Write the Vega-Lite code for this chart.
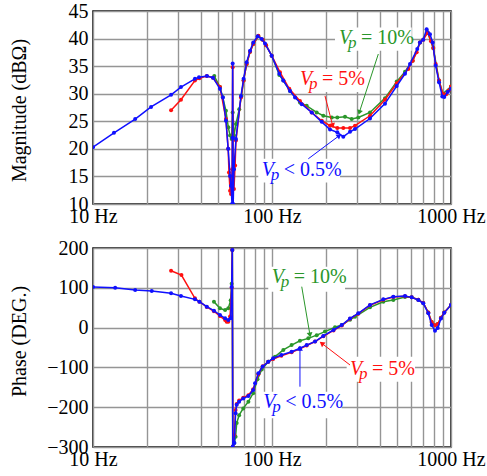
{
"$schema": "https://vega.github.io/schema/vega-lite/v6.json",
"background": "white",
"padding": {"left": 8, "top": 0, "right": 0, "bottom": 0},
"config": {
  "font": "'Liberation Serif', 'Times New Roman', Times, serif",
  "text": {"font": "'Liberation Serif', 'Times New Roman', Times, serif"},
  "view": {"stroke": "#000", "strokeWidth": 1.5},
  "axis": {"labelFont": "'Liberation Serif', 'Times New Roman', Times, serif", "labelFontSize": 20, "labelColor": "#000", "titleFont": "'Liberation Serif', 'Times New Roman', Times, serif", "titleFontSize": 20, "titleFontWeight": "normal", "titleColor": "#000", "gridColor": "#959595", "gridWidth": 1.4, "gridOpacity": 1, "domain": false, "ticks": false},
  "concat": {"spacing": 10}
},
"datasets": {
  "magB": [{"f":10,"v":20.3},{"f":13.1,"v":22.9},{"f":17.2,"v":25.4},{"f":21.1,"v":27.6},{"f":27.3,"v":29.8},{"f":31.0,"v":31.2},{"f":37.1,"v":32.7},{"f":39.1,"v":33.0},{"f":43.3,"v":33.2},{"f":46.8,"v":32.9},{"f":51.2,"v":30.9},{"f":53.2,"v":29.3},{"f":55.3,"v":25.1},{"f":56.9,"v":20.0},{"f":58.3,"v":15.1},{"f":59.0,"v":13.3},{"f":59.8,"v":10.0},{"f":60.1,"v":22.0},{"f":60.3,"v":35.5},{"f":60.5,"v":22.0},{"f":60.7,"v":10.0},{"f":61.3,"v":16.3},{"f":62.9,"v":21.8},{"f":67.1,"v":29.6},{"f":69.4,"v":32.7},{"f":72.2,"v":35.7},{"f":75.4,"v":37.8},{"f":78.6,"v":39.3},{"f":83.2,"v":40.4},{"f":87.6,"v":39.9},{"f":91.4,"v":39.1},{"f":99.6,"v":36.9},{"f":109.9,"v":33.6},{"f":115.7,"v":32.4},{"f":126.1,"v":30.5},{"f":134.5,"v":29.3},{"f":146.6,"v":28.1},{"f":166.7,"v":26.6},{"f":189.6,"v":24.9},{"f":210.9,"v":23.5},{"f":231.7,"v":23.0},{"f":250.2,"v":22.2},{"f":272.8,"v":23.1},{"f":290.9,"v":23.6},{"f":352.7,"v":25.5},{"f":427.9,"v":28.2},{"f":497.5,"v":31.4},{"f":553.4,"v":33.6},{"f":590,"v":35.4},{"f":648,"v":38.1},{"f":671,"v":39.3},{"f":700,"v":39.8},{"f":731,"v":41.7},{"f":763,"v":40.8},{"f":790,"v":39.3},{"f":821,"v":35.1},{"f":857,"v":32.1},{"f":894,"v":29.5},{"f":917,"v":29.4},{"f":958,"v":30.3},{"f":1000,"v":30.9}],
  "magR": [{"f":27.3,"v":27.0},{"f":31.0,"v":28.9},{"f":37.1,"v":32.4},{"f":39.3,"v":32.8},{"f":43.2,"v":33.2},{"f":46.8,"v":32.9},{"f":51.2,"v":31.2},{"f":55.3,"v":25.4},{"f":56.9,"v":20.0},{"f":57.5,"v":15.7},{"f":58.3,"v":12.4},{"f":59.0,"v":11.8},{"f":59.9,"v":16.3},{"f":60.3,"v":34.8},{"f":60.7,"v":16.3},{"f":61.3,"v":12.7},{"f":62.2,"v":17.0},{"f":62.9,"v":21.5},{"f":67.1,"v":29.3},{"f":69.4,"v":32.4},{"f":72.2,"v":35.4},{"f":75.4,"v":37.6},{"f":78.6,"v":39.0},{"f":83.9,"v":40.5},{"f":88.7,"v":39.8},{"f":92.6,"v":38.8},{"f":99.6,"v":36.9},{"f":110.8,"v":33.9},{"f":124.9,"v":30.9},{"f":143.3,"v":28.7},{"f":166.7,"v":26.6},{"f":189.6,"v":25.1},{"f":210.9,"v":24.2},{"f":231.7,"v":23.8},{"f":250.2,"v":23.8},{"f":272.8,"v":23.8},{"f":290.9,"v":24.2},{"f":352.7,"v":26.0},{"f":427.9,"v":28.9},{"f":497.5,"v":31.9},{"f":577.6,"v":34.5},{"f":611,"v":36.0},{"f":643,"v":37.5},{"f":671,"v":39.3},{"f":700,"v":39.8},{"f":741,"v":41.1},{"f":773,"v":39.5},{"f":796,"v":38.3},{"f":821,"v":35.4},{"f":857,"v":32.4},{"f":900,"v":30.0},{"f":940,"v":29.9},{"f":970,"v":30.6},{"f":1000,"v":31.3}],
  "magG": [{"f":47.6,"v":33.2},{"f":51.2,"v":31.2},{"f":53.0,"v":29.4},{"f":55.3,"v":26.9},{"f":57.0,"v":23.9},{"f":58.3,"v":22.4},{"f":59.5,"v":21.8},{"f":60.3,"v":26.6},{"f":61.3,"v":22.4},{"f":62.9,"v":24.5},{"f":65.6,"v":27.2},{"f":67.5,"v":29.6},{"f":69.4,"v":32.4},{"f":72.2,"v":35.4},{"f":75.4,"v":37.6},{"f":78.6,"v":39.0},{"f":83.9,"v":40.4},{"f":88.7,"v":39.8},{"f":92.6,"v":38.8},{"f":99.6,"v":36.9},{"f":109.9,"v":33.4},{"f":115.7,"v":32.4},{"f":126.1,"v":30.5},{"f":143.3,"v":28.4},{"f":156.3,"v":27.8},{"f":177.7,"v":26.6},{"f":193.5,"v":26.0},{"f":215.6,"v":25.7},{"f":231.7,"v":25.7},{"f":255.7,"v":25.8},{"f":278.7,"v":25.4},{"f":303.5,"v":25.7},{"f":352.7,"v":26.6},{"f":427.9,"v":29.2},{"f":497.5,"v":32.2},{"f":553.4,"v":34.0},{"f":611,"v":36.0},{"f":671,"v":39.3},{"f":741,"v":41.1},{"f":796,"v":38.3},{"f":857,"v":32.4},{"f":900,"v":30.0},{"f":1000,"v":31.3}],
  "phB": [{"f":10,"v":102},{"f":13.3,"v":100.3},{"f":17.2,"v":94.5},{"f":21.3,"v":92},{"f":27.3,"v":86.2},{"f":31.0,"v":79.4},{"f":37.1,"v":71.0},{"f":39.3,"v":65.1},{"f":43.2,"v":52.6},{"f":47.4,"v":42.6},{"f":51.2,"v":31.7},{"f":54.7,"v":23.3},{"f":57.0,"v":19},{"f":58.8,"v":23.3},{"f":59.5,"v":102},{"f":60.0,"v":195},{"f":60.4,"v":-299},{"f":61.6,"v":-290},{"f":62.6,"v":-215},{"f":63.5,"v":-194},{"f":65.5,"v":-186},{"f":69.1,"v":-178},{"f":73.8,"v":-172},{"f":78.5,"v":-157},{"f":80.4,"v":-140},{"f":83.9,"v":-115},{"f":88.7,"v":-98},{"f":95.3,"v":-86},{"f":101.5,"v":-77},{"f":112.8,"v":-69},{"f":128.7,"v":-60.5},{"f":143.3,"v":-52},{"f":156.3,"v":-44},{"f":174,"v":-35},{"f":193.5,"v":-21},{"f":220.6,"v":-6},{"f":245.3,"v":6.5},{"f":272.8,"v":23},{"f":303.5,"v":36},{"f":352.7,"v":57},{"f":418.6,"v":71},{"f":476,"v":77.6},{"f":553.4,"v":79.4},{"f":603,"v":76},{"f":656.7,"v":69.3},{"f":700,"v":61},{"f":746.8,"v":36},{"f":779.8,"v":6.5},{"f":814,"v":-8},{"f":843,"v":-1},{"f":879,"v":23},{"f":917,"v":37},{"f":1000,"v":57}],
  "phR": [{"f":27.3,"v":143},{"f":31.2,"v":132},{"f":37.1,"v":73.6},{"f":39.3,"v":65},{"f":43.2,"v":52},{"f":47.4,"v":41},{"f":51.2,"v":29},{"f":54.7,"v":19},{"f":55.8,"v":15},{"f":57.0,"v":15},{"f":58.3,"v":28},{"f":59.5,"v":100},{"f":60.0,"v":195},{"f":60.4,"v":-299},{"f":61.6,"v":-270},{"f":62.6,"v":-207},{"f":63.5,"v":-192},{"f":65.5,"v":-183},{"f":69.1,"v":-176},{"f":73.8,"v":-170},{"f":78.5,"v":-155},{"f":83.9,"v":-117},{"f":88.7,"v":-97},{"f":95.3,"v":-86},{"f":101.5,"v":-79},{"f":112.8,"v":-71},{"f":128.7,"v":-62},{"f":143.3,"v":-53},{"f":156.3,"v":-45},{"f":174,"v":-35},{"f":193.5,"v":-22},{"f":220.6,"v":-7},{"f":245.3,"v":5},{"f":272.8,"v":22},{"f":303.5,"v":35},{"f":352.7,"v":56},{"f":418.6,"v":70},{"f":476,"v":77},{"f":553.4,"v":79},{"f":603,"v":76},{"f":656.7,"v":70},{"f":700,"v":62},{"f":746.8,"v":38},{"f":779.8,"v":14},{"f":814,"v":6},{"f":843,"v":9},{"f":879,"v":25},{"f":917,"v":38},{"f":1000,"v":57}],
  "phG": [{"f":47.4,"v":65},{"f":51.2,"v":48.5},{"f":54.7,"v":44},{"f":57.0,"v":48.5},{"f":58.8,"v":69},{"f":59.5,"v":110},{"f":60.0,"v":195},{"f":60.4,"v":-299},{"f":61.6,"v":-290},{"f":62.6,"v":-274},{"f":63.5,"v":-240},{"f":65.5,"v":-220},{"f":69.1,"v":-203},{"f":73.8,"v":-186},{"f":78.5,"v":-165},{"f":83.0,"v":-130},{"f":87.6,"v":-105},{"f":95.3,"v":-86},{"f":104,"v":-73},{"f":115.7,"v":-56},{"f":128.7,"v":-44},{"f":143.3,"v":-33},{"f":159.5,"v":-27},{"f":177.7,"v":-19},{"f":197.7,"v":-10},{"f":224.9,"v":1},{"f":245.3,"v":6.5},{"f":272.8,"v":20},{"f":290.9,"v":27},{"f":352.7,"v":51},{"f":418.6,"v":65},{"f":476,"v":69.3},{"f":553.4,"v":77},{"f":603,"v":76},{"f":656.7,"v":70},{"f":700,"v":62},{"f":746.8,"v":38},{"f":779.8,"v":14},{"f":814,"v":6},{"f":843,"v":9},{"f":879,"v":25},{"f":917,"v":38},{"f":1000,"v":57}],
  "boxTop": [{"f":224.9,"f2":603.2,"v":42.0,"v2":37.8},{"f":137.4,"f2":323.6,"v":34.5,"v2":30.3},{"f":83.8,"f2":239.9,"v":18.2,"v2":13.9}],
  "boxBot": [{"f":95.3,"f2":255.9,"v":153,"v2":90.2},{"f":261.2,"f2":629.6,"v":-73,"v2":-136},{"f":85.7,"f2":245,"v":-161,"v2":-228}],
  "noteTop": [{"s":"g","f":236.6,"v":39.0,"rest":"= 10%"},{"s":"r","f":143.3,"v":31.6,"rest":"= 5%"},{"s":"b","f":87.6,"v":15.1,"rest":"< 0.5%"}],
  "noteBot": [{"s":"g","f":99.6,"v":111.3,"rest":"= 10%"},{"s":"r","f":272.8,"v":-119,"rest":"= 5%"},{"s":"b","f":89.4,"v":-202.8,"rest":"< 0.5%"}],
  "arrTop": [{"s":"g","f":392.6,"v":37.2,"f2":307.4,"v2":26.6},{"s":"r","f":197.7,"v":29.6,"f2":218.3,"v2":24.2},{"s":"b","f":159.5,"v":18.2,"f2":237.7,"v2":22.4}],
  "arrBot": [{"s":"g","f":146.6,"v":102.8,"f2":163,"v2":-18.6},{"s":"r","f":272.8,"v":-94,"f2":189.6,"v2":-39.5},{"s":"b","f":143.3,"v":-148.5,"f2":143.3,"v2":-52}]
},
"vconcat": [
  {
    "width": 358, "height": 193,
    "encoding": {
      "x": {"field": "f", "type": "quantitative", "scale": {"type": "log", "domain": [10, 1000], "nice": false},
            "axis": {"values": [10,20,30,40,50,60,70,80,90,100,200,300,400,500,600,700,800,900,1000], "labelExpr": "datum.value == 10 ? '10 Hz' : datum.value == 100 ? '100 Hz' : datum.value == 1000 ? '1000 Hz' : ''", "labelFlush": false, "labelOverlap": false, "labelPadding": 2, "title": null}},
      "y": {"field": "v", "type": "quantitative", "scale": {"domain": [10, 45], "nice": false, "zero": false},
            "axis": {"values": [10,15,20,25,30,35,40,45], "title": "Magnitude (dBΩ)", "titleX": -68, "titleY": 99, "titleBaseline": "alphabetic", "labelPadding": 5}}
    },
    "layer": [
      {"data": {"name": "boxTop"}, "mark": {"type": "rect", "fill": "white"}, "encoding": {"x2": {"field": "f2"}, "y2": {"field": "v2"}}},
      {"data": {"name": "magG"}, "mark": {"type": "line", "color": "#2a962a", "strokeWidth": 1.5, "clip": true, "point": {"filled": true, "size": 16, "color": "#2a962a"}}},
      {"data": {"name": "magR"}, "mark": {"type": "line", "color": "#ff1010", "strokeWidth": 1.5, "clip": true, "point": {"filled": true, "size": 16, "color": "#ff1010"}}},
      {"data": {"name": "magB"}, "mark": {"type": "line", "color": "#1010ff", "strokeWidth": 1.5, "clip": true, "point": {"filled": true, "size": 16, "color": "#1010ff"}}},
      {"data": {"name": "arrTop"}, "mark": {"type": "rule", "strokeWidth": 1}, "encoding": {"x2": {"field": "f2"}, "y2": {"field": "v2"}, "color": {"field": "s", "type": "nominal", "scale": {"domain": ["g","r","b"], "range": ["#2a962a","#ff1010","#1010ff"]}, "legend": null}}},
      {"data": {"name": "arrTop"}, "transform": [{"filter": "datum.s == 'g'"}], "mark": {"type": "point", "shape": "triangle-up", "filled": true, "opacity": 1, "size": 34, "angle": 198, "color": "#2a962a"}, "encoding": {"x": {"field": "f2", "type": "quantitative"}, "y": {"field": "v2", "type": "quantitative"}}},
      {"data": {"name": "arrTop"}, "transform": [{"filter": "datum.s == 'r'"}], "mark": {"type": "point", "shape": "triangle-up", "filled": true, "opacity": 1, "size": 34, "angle": 166, "color": "#ff1010"}, "encoding": {"x": {"field": "f2", "type": "quantitative"}, "y": {"field": "v2", "type": "quantitative"}}},
      {"data": {"name": "arrTop"}, "transform": [{"filter": "datum.s == 'b'"}], "mark": {"type": "point", "shape": "triangle-up", "filled": true, "opacity": 1, "size": 34, "angle": 53, "color": "#1010ff"}, "encoding": {"x": {"field": "f2", "type": "quantitative"}, "y": {"field": "v2", "type": "quantitative"}}},
      {"data": {"name": "noteTop"}, "mark": {"type": "text", "align": "left", "baseline": "alphabetic", "fontStyle": "italic", "fontSize": 20, "text": "V"}, "encoding": {"color": {"field": "s", "type": "nominal", "legend": null}}},
      {"data": {"name": "noteTop"}, "mark": {"type": "text", "align": "left", "baseline": "alphabetic", "fontStyle": "italic", "fontSize": 17, "text": "p", "dx": 9, "dy": 4}, "encoding": {"color": {"field": "s", "type": "nominal", "legend": null}}},
      {"data": {"name": "noteTop"}, "mark": {"type": "text", "align": "left", "baseline": "alphabetic", "fontSize": 20, "dx": 22}, "encoding": {"text": {"field": "rest"}, "color": {"field": "s", "type": "nominal", "legend": null}}}
    ]
  },
  {
    "width": 358, "height": 199,
    "encoding": {
      "x": {"field": "f", "type": "quantitative", "scale": {"type": "log", "domain": [10, 1000], "nice": false},
            "axis": {"values": [10,20,30,40,50,60,70,80,90,100,200,300,400,500,600,700,800,900,1000], "labelExpr": "datum.value == 10 ? '10 Hz' : datum.value == 100 ? '100 Hz' : datum.value == 1000 ? '1000 Hz' : ''", "labelFlush": false, "labelOverlap": false, "labelPadding": 2, "title": null}},
      "y": {"field": "v", "type": "quantitative", "scale": {"domain": [-300, 200], "nice": false, "zero": false},
            "axis": {"values": [-300,-200,-100,0,100,200], "title": "Phase (DEG.)", "titleX": -68, "titleY": 93, "titleBaseline": "alphabetic", "labelPadding": 5}}
    },
    "layer": [
      {"data": {"name": "boxBot"}, "mark": {"type": "rect", "fill": "white"}, "encoding": {"x2": {"field": "f2"}, "y2": {"field": "v2"}}},
      {"data": {"name": "phG"}, "mark": {"type": "line", "color": "#2a962a", "strokeWidth": 1.5, "clip": true, "point": {"filled": true, "size": 16, "color": "#2a962a"}}},
      {"data": {"name": "phR"}, "mark": {"type": "line", "color": "#ff1010", "strokeWidth": 1.5, "clip": true, "point": {"filled": true, "size": 16, "color": "#ff1010"}}},
      {"data": {"name": "phB"}, "mark": {"type": "line", "color": "#1010ff", "strokeWidth": 1.5, "clip": true, "point": {"filled": true, "size": 16, "color": "#1010ff"}}},
      {"data": {"name": "arrBot"}, "mark": {"type": "rule", "strokeWidth": 1}, "encoding": {"x2": {"field": "f2"}, "y2": {"field": "v2"}, "color": {"field": "s", "type": "nominal", "scale": {"domain": ["g","r","b"], "range": ["#2a962a","#ff1010","#1010ff"]}, "legend": null}}},
      {"data": {"name": "arrBot"}, "transform": [{"filter": "datum.s == 'g'"}], "mark": {"type": "point", "shape": "triangle-up", "filled": true, "opacity": 1, "size": 34, "angle": 170, "color": "#2a962a"}, "encoding": {"x": {"field": "f2", "type": "quantitative"}, "y": {"field": "v2", "type": "quantitative"}}},
      {"data": {"name": "arrBot"}, "transform": [{"filter": "datum.s == 'r'"}], "mark": {"type": "point", "shape": "triangle-up", "filled": true, "opacity": 1, "size": 34, "angle": 307, "color": "#ff1010"}, "encoding": {"x": {"field": "f2", "type": "quantitative"}, "y": {"field": "v2", "type": "quantitative"}}},
      {"data": {"name": "arrBot"}, "transform": [{"filter": "datum.s == 'b'"}], "mark": {"type": "point", "shape": "triangle-up", "filled": true, "opacity": 1, "size": 34, "angle": 0, "color": "#1010ff"}, "encoding": {"x": {"field": "f2", "type": "quantitative"}, "y": {"field": "v2", "type": "quantitative"}}},
      {"data": {"name": "noteBot"}, "mark": {"type": "text", "align": "left", "baseline": "alphabetic", "fontStyle": "italic", "fontSize": 20, "text": "V"}, "encoding": {"color": {"field": "s", "type": "nominal", "legend": null}}},
      {"data": {"name": "noteBot"}, "mark": {"type": "text", "align": "left", "baseline": "alphabetic", "fontStyle": "italic", "fontSize": 17, "text": "p", "dx": 9, "dy": 4}, "encoding": {"color": {"field": "s", "type": "nominal", "legend": null}}},
      {"data": {"name": "noteBot"}, "mark": {"type": "text", "align": "left", "baseline": "alphabetic", "fontSize": 20, "dx": 22}, "encoding": {"text": {"field": "rest"}, "color": {"field": "s", "type": "nominal", "legend": null}}}
    ]
  }
]
}
